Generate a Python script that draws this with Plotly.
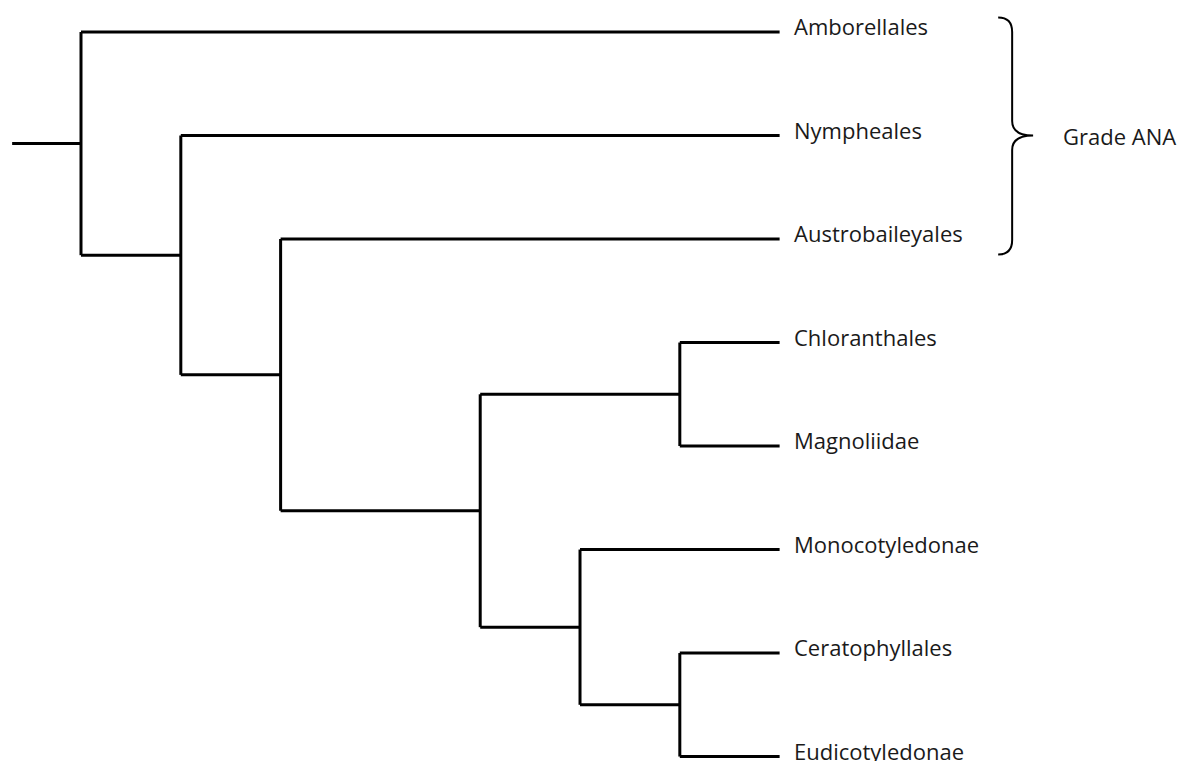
import plotly.graph_objects as go

# ---- Data -------------------------------------------------------------
leaves = ["Amborellales", "Nympheales", "Austrobaileyales", "Chloranthales",
          "Magnoliidae", "Monocotyledonae", "Ceratophyllales", "Eudicotyledonae"]
tip_depth = 8
stem_start = 0.31
node_names = ["root", "n2", "n3", "n5", "n7a", "n6", "n7b"]
node_depths = [1, 2, 3, 5, 7, 6, 7]
node_children = [["Amborellales", "n2"],
                 ["Nympheales", "n3"],
                 ["Austrobaileyales", "n5"],
                 ["n7a", "n6"],
                 ["Chloranthales", "Magnoliidae"],
                 ["Monocotyledonae", "n7b"],
                 ["Ceratophyllales", "Eudicotyledonae"]]
group_label = "Grade ANA"
group_members = ["Amborellales", "Nympheales", "Austrobaileyales"]

# ---- Layout of tree ---------------------------------------------------
ypos = {name: i for i, name in enumerate(leaves)}
xpos = {name: tip_depth for name in leaves}
depth = dict(zip(node_names, node_depths))
children = dict(zip(node_names, node_children))


def place(n):
    if n in ypos:
        return ypos[n]
    ys = [place(c) for c in children[n]]
    ypos[n] = (min(ys) + max(ys)) / 2
    xpos[n] = depth[n]
    return ypos[n]


place("root")

xs, ys = [stem_start, xpos["root"], None], [ypos["root"], ypos["root"], None]
for n in node_names:
    cy = [ypos[c] for c in children[n]]
    xs += [xpos[n], xpos[n], None]
    ys += [min(cy), max(cy), None]
    for c in children[n]:
        xs += [xpos[n], xpos[c], None]
        ys += [ypos[c], ypos[c], None]

fig = go.Figure()
fig.add_trace(go.Scatter(x=xs, y=ys, mode="lines",
                         line=dict(color="black", width=3),
                         hoverinfo="skip", showlegend=False))

FONT = dict(family="Open Sans", size=22, color="#1a1a1a")
for name in leaves:
    fig.add_annotation(x=tip_depth, y=ypos[name], text=name, showarrow=False,
                       xanchor="left", yanchor="middle", xshift=12, yshift=6,
                       font=FONT)

# brace
g_y = [ypos[m] for m in group_members]
top, bot = min(g_y) - 0.14, max(g_y) + 0.15
mid = (min(g_y) + max(g_y)) / 2
bx0, bx1, btip = 10.19, 10.33, 10.54
c = 0.14
path = (f"M {bx0},{top} Q {bx1},{top} {bx1},{top + c} "
        f"L {bx1},{mid - c} Q {bx1},{mid} {btip},{mid} "
        f"Q {bx1},{mid} {bx1},{mid + c} "
        f"L {bx1},{bot - c} Q {bx1},{bot} {bx0},{bot}")
fig.add_shape(type="path", path=path, xref="x", yref="y",
              line=dict(color="black", width=2))
fig.add_annotation(x=btip, y=mid, text=group_label, showarrow=False,
                   xanchor="left", yanchor="middle", xshift=28, yshift=0,
                   font=FONT)

fig.update_layout(width=1179, height=753, margin=dict(l=0, r=0, t=0, b=0),
                  plot_bgcolor="white", paper_bgcolor="white")
fig.update_xaxes(range=[0.2685, 12.082], visible=False, fixedrange=True)
fig.update_yaxes(range=[7.043, -0.2319], visible=False, fixedrange=True)

fig.write_html("out.html")
